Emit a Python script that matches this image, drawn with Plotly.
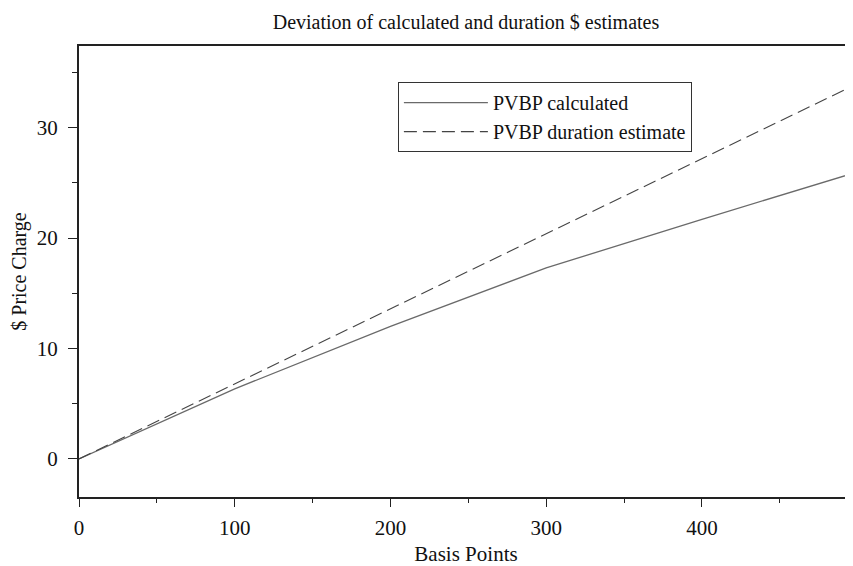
import plotly.graph_objects as go

basis_points = [0, 100, 200, 300, 400, 500]
pvbp_calculated = [0, 6.35, 12.0, 17.3, 21.7, 26.0]
pvbp_duration = [0, 6.8, 13.6, 20.4, 27.2, 34.0]

title_text = "Deviation of calculated and duration $ estimates"
x_title = "Basis Points"
y_title = "$ Price Charge"
series_names = ["PVBP calculated", "PVBP duration estimate"]

FONT = "Liberation Serif, Times New Roman, serif"

fig = go.Figure()
fig.add_trace(go.Scatter(x=basis_points, y=pvbp_calculated, mode="lines",
                         name=series_names[0],
                         line=dict(color="#6a6a6a", width=1.3)))
fig.add_trace(go.Scatter(x=basis_points, y=pvbp_duration, mode="lines",
                         name=series_names[1],
                         line=dict(color="#444444", width=1.1, dash="13px,6px")))

# page body has an 8px margin, so the figure is sized to fill the rest of the window
fig.update_layout(
    width=845, height=558,
    margin=dict(l=71, r=0, t=38, b=69, autoexpand=False),
    paper_bgcolor="white", plot_bgcolor="white",
    font=dict(family=FONT, size=20, color="#111"),
    title=dict(text=title_text, xref="paper", x=0.5, xanchor="center",
               y=0.988, yanchor="top", pad=dict(t=0, b=0),
               font=dict(family=FONT, size=20, color="#111")),
    legend=dict(x=0.412, y=0.92, xanchor="left", yanchor="top",
                bordercolor="#333", borderwidth=1, bgcolor="white",
                font=dict(family=FONT, size=20, color="#111"),
                itemwidth=84, tracegroupgap=0),
    showlegend=True,
)
fig.update_xaxes(range=[0, 497], showgrid=False, zeroline=False, automargin=False,
                 showline=True, linecolor="#222", linewidth=2, mirror=True,
                 ticks="outside", ticklen=8, tickwidth=1.2, tickcolor="#222",
                 tickvals=[0, 100, 200, 300, 400], ticktext=["0", "100", "200", "300", "400"],
                 minor=dict(ticks="outside", ticklen=4, tickwidth=1.2, tickcolor="#222", dtick=50, tick0=0),
                 tickfont=dict(size=21), ticklabelstandoff=3,
                 title=dict(text=x_title, font=dict(size=21), standoff=9))
fig.update_yaxes(range=[-3.45, 37.4], showgrid=False, zeroline=False, automargin=False,
                 showline=True, linecolor="#222", linewidth=2,
                 ticks="outside", ticklen=9, tickwidth=1.2, tickcolor="#222",
                 tickvals=[0, 10, 20, 30], ticktext=["0", "10", "20", "30"],
                 minor=dict(ticks="outside", ticklen=5, tickwidth=1.2, tickcolor="#222", dtick=5, tick0=0),
                 tickfont=dict(size=21), ticklabelstandoff=6,
                 title=dict(text=y_title, font=dict(size=20), standoff=10))

fig.write_html("out.html")
